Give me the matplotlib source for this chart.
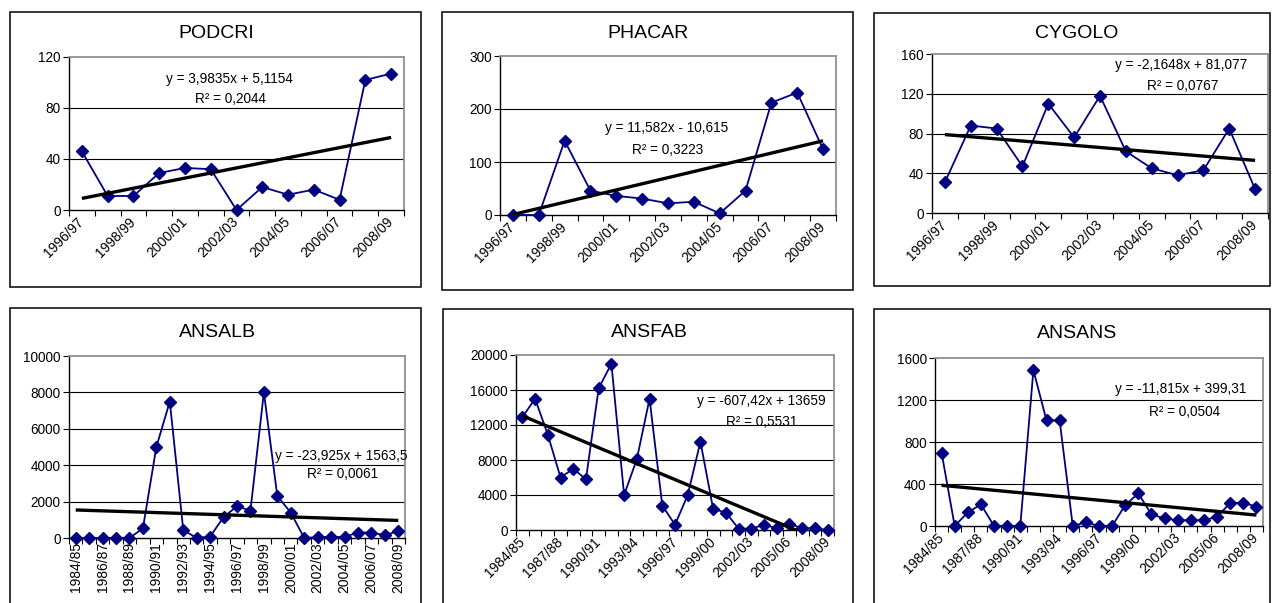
import numpy as np
import matplotlib
matplotlib.use("Agg")
import matplotlib.pyplot as plt
from matplotlib.patches import Rectangle

plt.rcParams["font.family"] = ["Liberation Sans", "DejaVu Sans"]

W, H = 1272, 603

# seasons
seasons_short = ["1996/97", "1997/98", "1998/99", "1999/00", "2000/01", "2001/02", "2002/03",
                 "2003/04", "2004/05", "2005/06", "2006/07", "2007/08", "2008/09"]
seasons_long = ["1984/85", "1985/86", "1986/87", "1987/88", "1988/89", "1989/90", "1990/91",
                "1991/92", "1992/93", "1993/94", "1994/95", "1995/96"] + seasons_short

# series values
podcri = [46, 11, 11, 29, 33, 32, 0, 18, 12, 16, 8, 102, 107]
phacar = [0, 0, 140, 46, 36, 31, 22, 25, 3, 46, 212, 231, 124]
cygolo = [31, 88, 85, 47, 110, 76, 118, 62, 45, 38, 43, 85, 24]
ansalb = [0, 0, 0, 0, 0, 530, 5000, 7500, 440, 0, 80, 1140, 1750, 1500, 8000,
          2300, 1400, 0, 50, 60, 60, 300, 300, 150, 380]
ansfab = [12900, 15000, 10900, 6000, 7000, 5800, 16200, 19000, 4000, 8100, 15000,
          2800, 600, 4000, 10100, 2400, 2000, 150, 150, 600, 200, 700, 200, 200, 0]
ansans = [700, 0, 130, 205, 0, 0, 0, 1485, 1005, 1005, 0, 35, 0, 0, 200, 310,
          110, 72, 55, 55, 55, 88, 220, 220, 185]

# trendline coefficients and labels as printed on the chart
slopes = [3.9835, 11.582, -2.1648, -23.925, -607.42, -11.815]
intercepts = [5.1154, -10.615, 81.077, 1563.5, 13659, 399.31]
eq_labels = ["y = 3,9835x + 5,1154", "y = 11,582x - 10,615", "y = -2,1648x + 81,077",
             "y = -23,925x + 1563,5", "y = -607,42x + 13659", "y = -11,815x + 399,31"]
r2_labels = ["R² = 0,2044", "R² = 0,3223", "R² = 0,0767",
             "R² = 0,0061", "R² = 0,5531", "R² = 0,0504"]

titles = ["PODCRI", "PHACAR", "CYGOLO", "ANSALB", "ANSFAB", "ANSANS"]
series = [podcri, phacar, cygolo, ansalb, ansfab, ansans]
cats = [seasons_short] * 3 + [seasons_long] * 3
ymax = [120, 300, 160, 10000, 20000, 1600]
ystep = [40, 100, 40, 2000, 4000, 400]
label_every = [2, 2, 2, 2, 3, 3]
label_rot = [45, 45, 45, 90, 45, 45]

# layout in pixels (left, top, right, bottom)
axes_px = [(69, 57, 404, 210), (500, 56, 836, 215), (932, 54, 1268, 213),
           (69, 356, 405, 538), (516, 355, 834, 530), (935, 358, 1263, 526)]
frames_px = [(10, 12, 421, 287), (442, 12, 853, 290), (874, 13, 1270, 286),
             (10, 308, 421, 640), (443, 309, 853, 640), (874, 309, 1270, 640)]
title_px = [(216, 33), (648, 34), (1077, 34), (217, 332), (649, 332), (1077, 333)]
eq_pos = [(0.48, 0.856), (0.497, 0.547), (0.74, 0.93), (0.81, 0.45), (0.77, 0.737), (0.75, 0.815)]
r2_pos = [(0.483, 0.725), (0.50, 0.41), (0.745, 0.80), (0.815, 0.35), (0.774, 0.617), (0.76, 0.68)]

NAVY = "#000080"

fig = plt.figure(figsize=(W / 100, H / 100), dpi=100)
fig.patch.set_facecolor("white")


def to_fig(l, t, r, b):
    return [l / W, 1 - b / H, (r - l) / W, (b - t) / H]


for i in range(6):
    l, t, r, b = frames_px[i]
    fig.patches.append(Rectangle((l / W, 1 - b / H), (r - l) / W, (b - t) / H,
                                 transform=fig.transFigure, fill=False,
                                 edgecolor="black", linewidth=1.1))
    fig.text(title_px[i][0] / W, 1 - title_px[i][1] / H, titles[i],
             ha="center", va="center", fontsize=14)

    ax = fig.add_axes(to_fig(*axes_px[i]))
    vals = series[i]
    n = len(vals)
    x = np.arange(1, n + 1)

    ax.plot(x, vals, color=NAVY, linewidth=1.3, marker="D", markersize=6.3,
            markerfacecolor=NAVY, markeredgecolor=NAVY, clip_on=False, zorder=3)
    xt = np.array([1, n])
    ax.plot(xt, slopes[i] * xt + intercepts[i], color="black", linewidth=2.4,
            solid_capstyle="butt", zorder=4)

    ax.set_xlim(0.5, n + 0.5)
    ax.set_ylim(0, ymax[i])
    yt = np.arange(0, ymax[i] + 1, ystep[i])
    ax.set_yticks(yt)
    ax.set_yticklabels([str(v) for v in yt], fontsize=9.8)
    for v in yt[1:-1]:
        ax.axhline(v, color="black", linewidth=0.8, zorder=1)

    ax.set_xticks(np.arange(0.5, n + 1, 1))
    ax.set_xticklabels([])
    lab_idx = list(range(0, n, label_every[i]))
    ax.set_xticks([j + 1 for j in lab_idx], minor=True)
    if label_rot[i] == 90:
        ax.set_xticklabels([cats[i][j] for j in lab_idx], minor=True, rotation=90,
                           ha="center", va="top", fontsize=10)
    else:
        ax.set_xticklabels([cats[i][j] for j in lab_idx], minor=True, rotation=45,
                           ha="right", va="center", rotation_mode="anchor", fontsize=10)
    ax.tick_params(axis="x", which="major", direction="out", length=4, width=0.8)
    ax.tick_params(axis="x", which="minor", length=0, pad=7 if label_rot[i] == 45 else 3)
    ax.tick_params(axis="y", direction="out", length=4, width=0.8, pad=2)

    for side in ("left", "bottom"):
        ax.spines[side].set_color("black")
        ax.spines[side].set_linewidth(1.0)
    for side in ("top", "right"):
        ax.spines[side].set_color("#909090")
        ax.spines[side].set_linewidth(1.3)

    ax.text(eq_pos[i][0], eq_pos[i][1], eq_labels[i], transform=ax.transAxes,
            ha="center", va="center", fontsize=9.8, zorder=5)
    ax.text(r2_pos[i][0], r2_pos[i][1], r2_labels[i], transform=ax.transAxes,
            ha="center", va="center", fontsize=9.8, zorder=5)

fig.savefig("out.png", dpi=100, facecolor="white")
